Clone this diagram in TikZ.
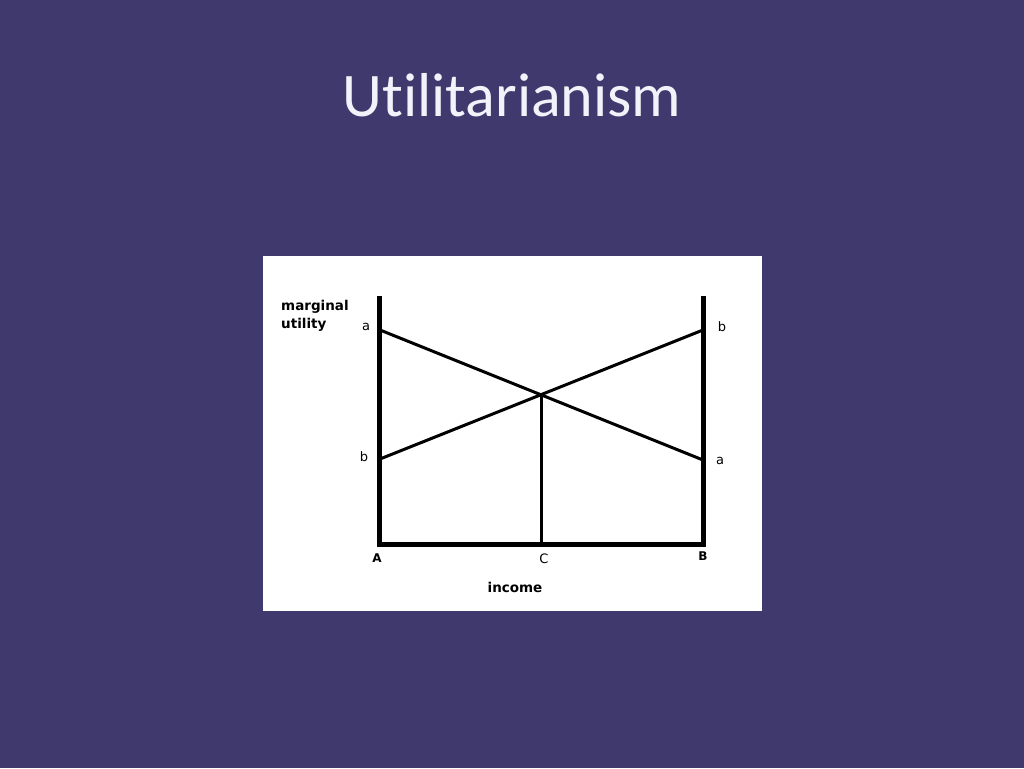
\documentclass[tikz,border=0pt]{standalone}
\usepackage{fontspec}
\setmainfont{Carlito}[Ligatures={NoCommon}]
\newfontfamily\lblfont{DejaVu Sans}
\definecolor{bgpurple}{RGB}{63,57,110}
\definecolor{titlecol}{RGB}{242,242,250}
\begin{document}
\begin{tikzpicture}[x=1pt,y=-1pt,
  lbl/.style={font=\lblfont\fontsize{13}{15}\selectfont, text=black, inner sep=0pt},
  blbl/.style={font=\lblfont\bfseries\fontsize{13.5}{16}\selectfont, text=black, inner sep=0pt},
  caplbl/.style={font=\lblfont\bfseries\fontsize{12}{14}\selectfont, text=black, inner sep=0pt},
  axis/.style={line width=5pt, line cap=rect},
  curve/.style={line width=3pt}]
\fill[bgpurple] (0,0) rectangle (1024,768);
\useasboundingbox (0,0) rectangle (1024,768);
\node[font=\fontsize{62}{70}\selectfont, text=titlecol, anchor=base, inner sep=0pt] (title) at (512,116) {Utilitarianism};
\node[fill=white, draw=none, minimum width=499pt, minimum height=355pt, anchor=north west, inner sep=0pt] (panel) at (263,256) {};
% axes
\coordinate (Ltop) at (379,298);
\coordinate (A0) at (379,544);
\coordinate (B0) at (703,544);
\coordinate (Rtop) at (703,298);
\draw[axis] (Ltop) -- (A0) -- (B0) -- (Rtop);
% lines
\coordinate (La) at (380,330);
\coordinate (Ra) at (703,460);
\coordinate (Lb) at (380,459);
\coordinate (Rb) at (703,330);
\draw[curve] (La) -- (Ra);
\draw[curve] (Lb) -- (Rb);
\coordinate (X) at (541.5,394.6);
\coordinate (C0) at (541.5,544);
\draw[line width=2.6pt] (X) -- (C0);
% labels
\node[blbl, anchor=base west] (mu) at (281,310) {marginal};
\node[blbl, anchor=base west] (ut) at (281,328) {utility};
\node[lbl, anchor=base] (la) at (366,330) {a};
\node[lbl, anchor=base] (lb) at (364,461) {b};
\node[lbl, anchor=base] (rb) at (722,331) {b};
\node[lbl, anchor=base] (ra) at (720,464) {a};
\node[caplbl, anchor=base] (lA) at (377,562) {A};
\node[lbl, anchor=base] (lC) at (544,563) {C};
\node[caplbl, anchor=base] (lB) at (703,560) {B};
\node[blbl, anchor=base] (inc) at (515,592) {income};
\end{tikzpicture}
\end{document}
